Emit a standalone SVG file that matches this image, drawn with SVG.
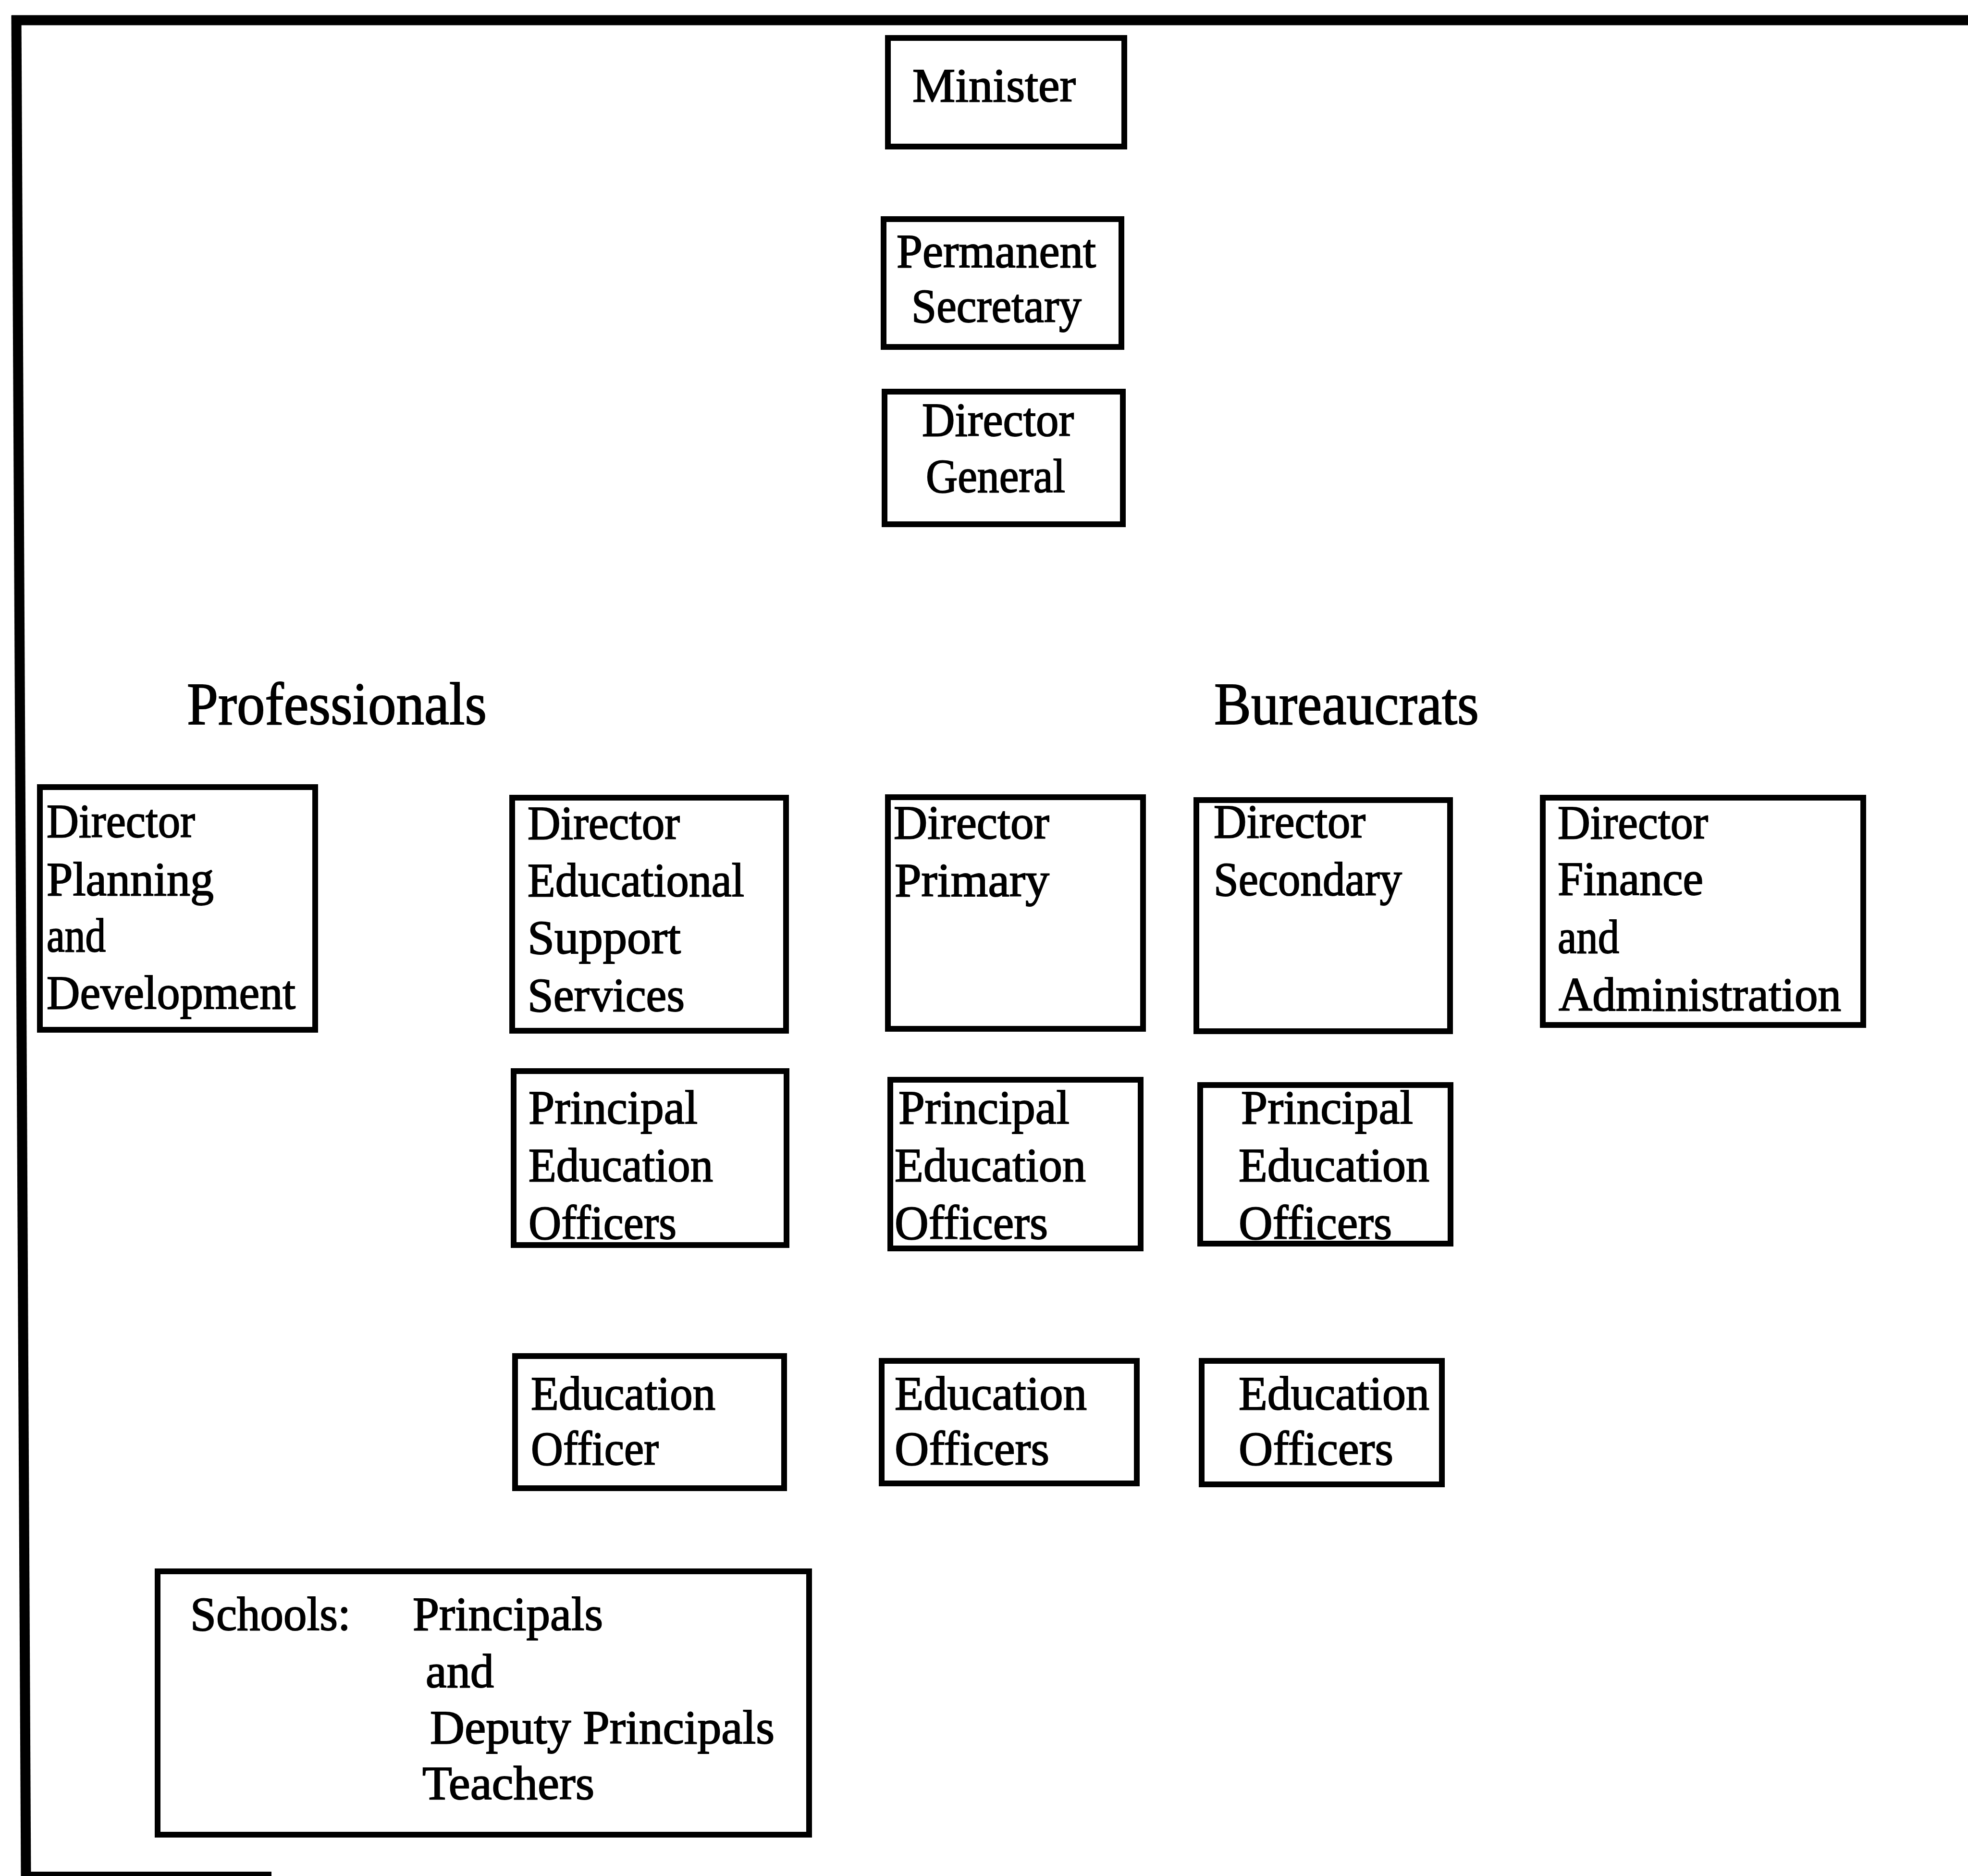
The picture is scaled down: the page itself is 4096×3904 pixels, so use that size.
<svg xmlns="http://www.w3.org/2000/svg" width="4096" height="3904" viewBox="0 0 4096 3904">
<style>
.box{fill:none;stroke:#000;stroke-width:12}
.t{font-family:"Liberation Serif","Times New Roman",serif;font-size:100px;fill:#000;stroke:#000;stroke-width:2}
.h{font-family:"Liberation Serif","Times New Roman",serif;font-size:125px;fill:#000;stroke:#000;stroke-width:2}
.frame{fill:none;stroke:#000;stroke-width:21}
</style>
<rect x="0" y="0" width="4096" height="3904" fill="#fff"/>
<g id="frame">
<line class="frame" x1="24" y1="42" x2="4096" y2="42"/>
<line class="frame" x1="34" y1="32" x2="54" y2="3904"/>
<line x1="44" y1="3900" x2="565" y2="3900" stroke="#000" stroke-width="10"/>
</g>
<g id="connectors"></g>
<g id="minister">
<rect class="box" x="1848" y="79" width="492" height="226"/>
<text class="t" x="1899" y="211" textLength="340" lengthAdjust="spacingAndGlyphs">Minister</text>
</g>
<g id="permanent-secretary">
<rect class="box" x="1839" y="456" width="495" height="266"/>
<text class="t" x="1866" y="556" textLength="415" lengthAdjust="spacingAndGlyphs">Permanent</text>
<text class="t" x="1897" y="670" textLength="354" lengthAdjust="spacingAndGlyphs">Secretary</text>
</g>
<g id="director-general">
<rect class="box" x="1841" y="815" width="496" height="276"/>
<text class="t" x="1919" y="907" textLength="316" lengthAdjust="spacingAndGlyphs">Director</text>
<text class="t" x="1927" y="1024" textLength="290" lengthAdjust="spacingAndGlyphs">General</text>
</g>
<g id="heading-professionals">
<text class="h" x="389" y="1507" textLength="624" lengthAdjust="spacingAndGlyphs">Professionals</text>
</g>
<g id="heading-bureaucrats">
<text class="h" x="2527" y="1507" textLength="551" lengthAdjust="spacingAndGlyphs">Bureaucrats</text>
</g>
<g id="director-planning">
<rect class="box" x="83" y="1638" width="573" height="505"/>
<text class="t" x="97" y="1742" textLength="309" lengthAdjust="spacingAndGlyphs">Director</text>
<text class="t" x="97" y="1863" textLength="348" lengthAdjust="spacingAndGlyphs">Planning</text>
<text class="t" x="97" y="1980" textLength="123" lengthAdjust="spacingAndGlyphs">and</text>
<text class="t" x="97" y="2099" textLength="518" lengthAdjust="spacingAndGlyphs">Development</text>
</g>
<g id="director-ess">
<rect class="box" x="1066" y="1660" width="570" height="485"/>
<text class="t" x="1098" y="1746" textLength="317" lengthAdjust="spacingAndGlyphs">Director</text>
<text class="t" x="1098" y="1865" textLength="451" lengthAdjust="spacingAndGlyphs">Educational</text>
<text class="t" x="1098" y="1984" textLength="319" lengthAdjust="spacingAndGlyphs">Support</text>
<text class="t" x="1098" y="2104" textLength="327" lengthAdjust="spacingAndGlyphs">Services</text>
</g>
<g id="director-primary">
<rect class="box" x="1848" y="1659" width="531" height="482"/>
<text class="t" x="1860" y="1745" textLength="324" lengthAdjust="spacingAndGlyphs">Director</text>
<text class="t" x="1862" y="1865" textLength="322" lengthAdjust="spacingAndGlyphs">Primary</text>
</g>
<g id="director-secondary">
<rect class="box" x="2490" y="1665" width="528" height="481"/>
<text class="t" x="2526" y="1743" textLength="316" lengthAdjust="spacingAndGlyphs">Director</text>
<text class="t" x="2526" y="1863" textLength="392" lengthAdjust="spacingAndGlyphs">Secondary</text>
</g>
<g id="director-finance">
<rect class="box" x="3211" y="1660" width="667" height="473"/>
<text class="t" x="3242" y="1745" textLength="313" lengthAdjust="spacingAndGlyphs">Director</text>
<text class="t" x="3242" y="1862" textLength="303" lengthAdjust="spacingAndGlyphs">Finance</text>
<text class="t" x="3242" y="1983" textLength="128" lengthAdjust="spacingAndGlyphs">and</text>
<text class="t" x="3244" y="2103" textLength="588" lengthAdjust="spacingAndGlyphs">Administration</text>
</g>
<g id="peo-ess">
<rect class="box" x="1069" y="2229" width="568" height="362"/>
<text class="t" x="1100" y="2338" textLength="352" lengthAdjust="spacingAndGlyphs">Principal</text>
<text class="t" x="1100" y="2458" textLength="384" lengthAdjust="spacingAndGlyphs">Education</text>
<text class="t" x="1100" y="2578" textLength="308" lengthAdjust="spacingAndGlyphs">Officers</text>
</g>
<g id="peo-primary">
<rect class="box" x="1853" y="2247" width="521" height="351"/>
<text class="t" x="1870" y="2338" textLength="356" lengthAdjust="spacingAndGlyphs">Principal</text>
<text class="t" x="1862" y="2458" textLength="398" lengthAdjust="spacingAndGlyphs">Education</text>
<text class="t" x="1862" y="2578" textLength="319" lengthAdjust="spacingAndGlyphs">Officers</text>
</g>
<g id="peo-secondary">
<rect class="box" x="2498" y="2258" width="521" height="330"/>
<text class="t" x="2583" y="2338" textLength="358" lengthAdjust="spacingAndGlyphs">Principal</text>
<text class="t" x="2578" y="2458" textLength="397" lengthAdjust="spacingAndGlyphs">Education</text>
<text class="t" x="2578" y="2578" textLength="319" lengthAdjust="spacingAndGlyphs">Officers</text>
</g>
<g id="eo-ess">
<rect class="box" x="1072" y="2822" width="560" height="275"/>
<text class="t" x="1105" y="2933" textLength="384" lengthAdjust="spacingAndGlyphs">Education</text>
<text class="t" x="1105" y="3048" textLength="266" lengthAdjust="spacingAndGlyphs">Officer</text>
</g>
<g id="eo-primary">
<rect class="box" x="1835" y="2832" width="531" height="255"/>
<text class="t" x="1862" y="2933" textLength="400" lengthAdjust="spacingAndGlyphs">Education</text>
<text class="t" x="1862" y="3048" textLength="322" lengthAdjust="spacingAndGlyphs">Officers</text>
</g>
<g id="eo-secondary">
<rect class="box" x="2501" y="2832" width="500" height="257"/>
<text class="t" x="2578" y="2933" textLength="397" lengthAdjust="spacingAndGlyphs">Education</text>
<text class="t" x="2578" y="3048" textLength="322" lengthAdjust="spacingAndGlyphs">Officers</text>
</g>
<g id="schools">
<rect class="box" x="328" y="3270" width="1356" height="548"/>
<text class="t" x="396" y="3392" textLength="334" lengthAdjust="spacingAndGlyphs">Schools:</text>
<text class="t" x="859" y="3392" textLength="396" lengthAdjust="spacingAndGlyphs">Principals</text>
<text class="t" x="886" y="3511" textLength="142" lengthAdjust="spacingAndGlyphs">and</text>
<text class="t" x="895" y="3628" textLength="717" lengthAdjust="spacingAndGlyphs">Deputy Principals</text>
<text class="t" x="879" y="3744" textLength="358" lengthAdjust="spacingAndGlyphs">Teachers</text>
</g>
</svg>
